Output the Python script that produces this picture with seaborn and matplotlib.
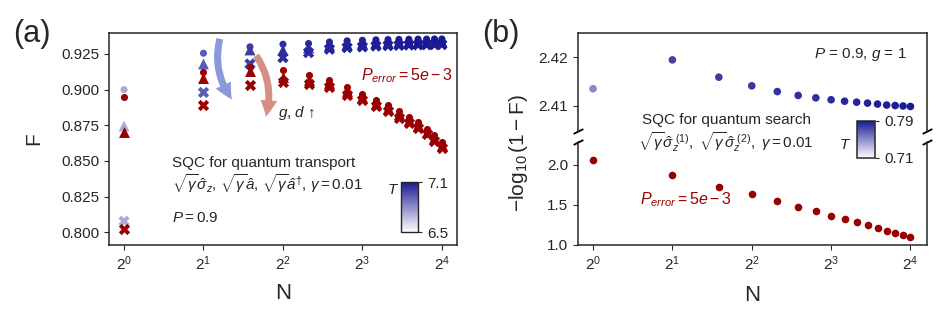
import numpy as np
import matplotlib
matplotlib.use("Agg")
import matplotlib.pyplot as plt
import seaborn as sns
from matplotlib.colors import LinearSegmentedColormap, Normalize
from matplotlib.cm import ScalarMappable
from matplotlib.patches import FancyArrowPatch

# ---- data ----
N = np.arange(1, 17)

# (a) quantum transport, T colour per N
T_a = [6.72, 6.93, 7.01, 7.05, 7.06, 7.07, 7.08, 7.08, 7.09, 7.09, 7.09, 7.10, 7.10, 7.10, 7.10, 7.10]
F_circ = [0.9000, 0.9255, 0.9300, 0.9318, 0.9323, 0.9334, 0.9342, 0.9346, 0.9349, 0.9351,
          0.9352, 0.9353, 0.9354, 0.9354, 0.9355, 0.9355]
F_tri = [0.8745, 0.9180, 0.9278, 0.9276, 0.9292, 0.9310, 0.9317, 0.9324, 0.9328, 0.9331,
         0.9333, 0.9334, 0.9335, 0.9336, 0.9336, 0.9337]
F_x = [0.8077, 0.8980, 0.9180, 0.9224, 0.9259, 0.9283, 0.9294, 0.9299, 0.9305, 0.9308,
       0.9310, 0.9312, 0.9313, 0.9314, 0.9315, 0.9315]
# with P_error = 5e-3
Fe_circ = [0.8948, 0.9120, 0.9161, 0.9135, 0.9104, 0.9070, 0.9018, 0.8970, 0.8926, 0.8891,
           0.8849, 0.8806, 0.8771, 0.8722, 0.8680, 0.8630]
Fe_tri = [0.8700, 0.9084, 0.9130, 0.9090, 0.9070, 0.9044, 0.8993, 0.8947, 0.8905, 0.8870,
          0.8828, 0.8785, 0.8750, 0.8701, 0.8659, 0.8609]
Fe_x = [0.8025, 0.8889, 0.9035, 0.9050, 0.9040, 0.9016, 0.8965, 0.8926, 0.8884, 0.8849,
        0.8803, 0.8764, 0.8729, 0.8687, 0.8637, 0.8588]

# (b) quantum search, -log10(1-F)
T_b = [0.751, 0.776, 0.778, 0.780, 0.781, 0.782, 0.783, 0.784, 0.785, 0.786,
       0.787, 0.788, 0.788, 0.789, 0.789, 0.790]
L_ideal = [2.4135, 2.4195, 2.4159, 2.4141, 2.4129, 2.4121, 2.4116, 2.4112, 2.4109, 2.4107,
           2.4105, 2.4103, 2.4101, 2.4100, 2.4099, 2.4098]
L_err = [2.053, 1.864, 1.724, 1.628, 1.545, 1.476, 1.418, 1.364, 1.318, 1.281,
         1.244, 1.207, 1.174, 1.145, 1.120, 1.095]

RED = "#990000"
cmap = LinearSegmentedColormap.from_list("wb", ["#ffffff", "#1a1a96"])

sns.set_style("ticks")
plt.rcParams["font.family"] = ["Liberation Sans", "DejaVu Sans"]
plt.rcParams["mathtext.fontset"] = "custom"
plt.rcParams["mathtext.rm"] = "Liberation Sans"
plt.rcParams["mathtext.it"] = "Liberation Sans:italic"
plt.rcParams["xtick.labelsize"] = 11
plt.rcParams["ytick.labelsize"] = 11
plt.rcParams["axes.linewidth"] = 1.1

fig = plt.figure(figsize=(9.37, 3.13), dpi=100)

# ================= (a) =================
ax = fig.add_axes([0.1163, 0.2173, 0.3714, 0.6773])
norm_a = Normalize(6.5, 7.1)
for vals, mk, s in [(F_x, "X", 66), (F_tri, "^", 62), (F_circ, "o", 26)]:
    sns.scatterplot(x=N, y=vals, hue=T_a, palette=cmap, hue_norm=norm_a, marker=mk,
                    s=s, linewidth=0, legend=False, ax=ax, zorder=3)
for vals, mk, s in [(Fe_x, "X", 66), (Fe_tri, "^", 62), (Fe_circ, "o", 26)]:
    sns.scatterplot(x=N, y=vals, color=RED, marker=mk, s=s, linewidth=0,
                    legend=False, ax=ax, zorder=4)

ax.set_xscale("log", base=2)
ax.set_xlim(0.877, 18.25)
ax.set_xticks([1, 2, 4, 8, 16])
ax.set_ylim(0.791, 0.9397)
ax.set_yticks([0.800, 0.825, 0.850, 0.875, 0.900, 0.925])
ax.set_yticklabels(["0.800", "0.825", "0.850", "0.875", "0.900", "0.925"])
ax.minorticks_off()
ax.set_xlabel("N", fontsize=16)
ax.set_ylabel("F", fontsize=15)
ax.xaxis.set_label_coords(0.5, -0.18)
ax.yaxis.set_label_coords(-0.19, 0.5)

# arrows
ax.add_patch(FancyArrowPatch((2.32, 0.9375), (2.6, 0.8915), transform=ax.transData,
                             connectionstyle="arc3,rad=0.25",
                             arrowstyle="simple,head_width=12,head_length=12,tail_width=5",
                             color="#8494d8", alpha=0.95, zorder=2, linewidth=0))
ax.add_patch(FancyArrowPatch((3.12, 0.9255), (3.42, 0.8790), transform=ax.transData,
                             connectionstyle="arc3,rad=-0.25",
                             arrowstyle="simple,head_width=12,head_length=12,tail_width=5",
                             color="#d4897f", alpha=0.95, zorder=2, linewidth=0))

ax.text(0.725, 0.80, r"$P_{error}=5e-3$", transform=ax.transAxes, color=RED,
        fontsize=11.5, va="center")
ax.text(0.486, 0.623, r"$g$, $d$ ↑", transform=ax.transAxes, fontsize=11, va="center")
ax.text(0.181, 0.387, "SQC for quantum transport", transform=ax.transAxes,
        fontsize=11, va="center")
ax.text(0.181, 0.29, r"$\sqrt{\gamma}\hat{\sigma}_z$, $\sqrt{\gamma}\hat{a}$, $\sqrt{\gamma}\hat{a}^{\dagger}$, $\gamma=0.01$",
        transform=ax.transAxes, fontsize=11, va="center")
ax.text(0.181, 0.127, r"$P=0.9$", transform=ax.transAxes, fontsize=11, va="center")

cax_a = ax.inset_axes([0.839, 0.061, 0.049, 0.236])
cb_a = fig.colorbar(ScalarMappable(norm=norm_a, cmap=cmap), cax=cax_a, ticks=[6.5, 7.1])
cb_a.ax.tick_params(labelsize=11, length=3)
cb_a.outline.set_linewidth(1)
ax.text(0.80, 0.26, r"$T$", transform=ax.transAxes, fontsize=11, va="center")

# ================= (b) =================
axt = fig.add_axes([0.6169, 0.5815, 0.3725, 0.3131])
axb = fig.add_axes([0.6169, 0.2173, 0.3725, 0.3291])
norm_b = Normalize(0.71, 0.79)
sns.scatterplot(x=N, y=L_ideal, hue=T_b, palette=cmap, hue_norm=norm_b, s=30,
                linewidth=0, legend=False, ax=axt)
sns.scatterplot(x=N, y=L_err, color=RED, s=30, linewidth=0, legend=False, ax=axb)

for a in (axt, axb):
    a.set_xscale("log", base=2)
    a.set_xlim(0.877, 18.5)
    a.minorticks_off()
axt.set_ylim(2.4047, 2.4251)
axt.set_yticks([2.41, 2.42])
axt.set_yticklabels(["2.41", "2.42"])
axb.set_ylim(1.0, 2.28)
axb.set_yticks([1.0, 1.5, 2.0])
axb.set_xticks([1, 2, 4, 8, 16])
axt.set_xticks([])
axt.spines["bottom"].set_visible(False)
axb.spines["top"].set_visible(False)
axb.set_xlabel("N", fontsize=16)
axb.xaxis.set_label_coords(0.5, -0.39)
axt.set_ylabel("")
axb.set_ylabel("")

# break marks
kw = dict(marker=[(-1, -0.5), (1, 0.5)], markersize=7, linestyle="none",
          color="k", mec="k", mew=1.3, clip_on=False)
axt.plot([0, 1], [0, 0], transform=axt.transAxes, **kw)
axb.plot([0, 1], [1, 1], transform=axb.transAxes, **kw)

fig.text(0.553, 0.511, r"$-\log_{10}(1-\mathrm{F})$", rotation=90, fontsize=15,
         ha="center", va="center")

axt.text(0.943, 0.776, r"$P$ = 0.9, $g$ = 1", transform=axt.transAxes, fontsize=11,
         ha="right", va="center")
fig.text(0.775, 1 - 120 / 313, "SQC for quantum search", fontsize=11, ha="center", va="center")
fig.text(0.775, 1 - 142 / 313,
         r"$\sqrt{\gamma}\hat{\sigma}_z^{\ (1)},\ \sqrt{\gamma}\hat{\sigma}_z^{\ (2)},\ \gamma=0.01$",
         fontsize=11, ha="center", va="center")
axb.text(0.178, 0.437, r"$P_{error}=5e-3$", transform=axb.transAxes, color=RED,
         fontsize=11.5, va="center")

cax_b = fig.add_axes([857 / 937, 1 - 158 / 313, 18 / 937, 37 / 313])
cb_b = fig.colorbar(ScalarMappable(norm=norm_b, cmap=cmap), cax=cax_b, ticks=[0.71, 0.79])
cb_b.ax.tick_params(labelsize=11, length=3)
cb_b.ax.set_yticklabels(["0.71", "0.79"])
fig.text(845 / 937, 1 - 145 / 313, r"$T$", fontsize=11, ha="center", va="center")

fig.text(0.034, 0.891, "(a)", fontsize=22, ha="center", va="center")
fig.text(0.535, 0.891, "(b)", fontsize=22, ha="center", va="center")

fig.savefig("out.png", dpi=100)
